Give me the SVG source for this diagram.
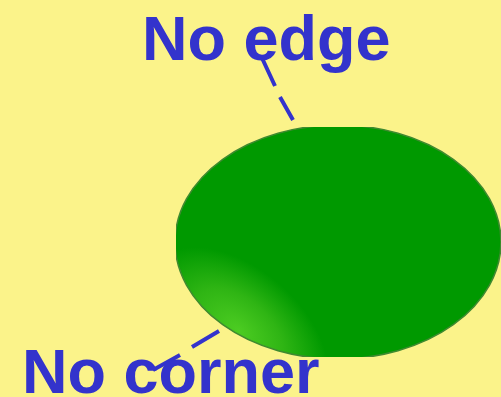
<svg xmlns="http://www.w3.org/2000/svg" width="501" height="397" viewBox="0 0 501 397">
<style>
.lbl{font-family:"Liberation Sans",Arial,sans-serif;font-weight:bold;font-size:63px;fill:#3333cc}
.conn{stroke:#3333cc;stroke-width:4;fill:none}
</style>
<defs>
<radialGradient id="hl" gradientUnits="userSpaceOnUse" cx="0" cy="0" r="1" gradientTransform="translate(238,330) rotate(40) scale(105,62)">
<stop offset="0" stop-color="#4ccc22"/>
<stop offset="0.5" stop-color="#2fb514"/>
<stop offset="1" stop-color="#009900"/>
</radialGradient>
<clipPath id="cp"><rect x="176" y="127" width="325" height="230"/></clipPath>
</defs>
<rect width="501" height="397" fill="#fbf38a"/>
<g id="shape" clip-path="url(#cp)">
<ellipse cx="338" cy="242" rx="163" ry="117" fill="url(#hl)" stroke="#3f8a30" stroke-width="1.5"/>
</g>
<g id="connectors">
<path class="conn" d="M262,58 L275,86 M280,97 L293,120"/>
<path class="conn" d="M219,331 L192,347 M180,355 L153,370"/>
</g>
<g id="label-edge"><text class="lbl" x="142" y="60">No edge</text></g>
<g id="label-corner"><text class="lbl" x="22" y="393">No corner</text></g>
</svg>
